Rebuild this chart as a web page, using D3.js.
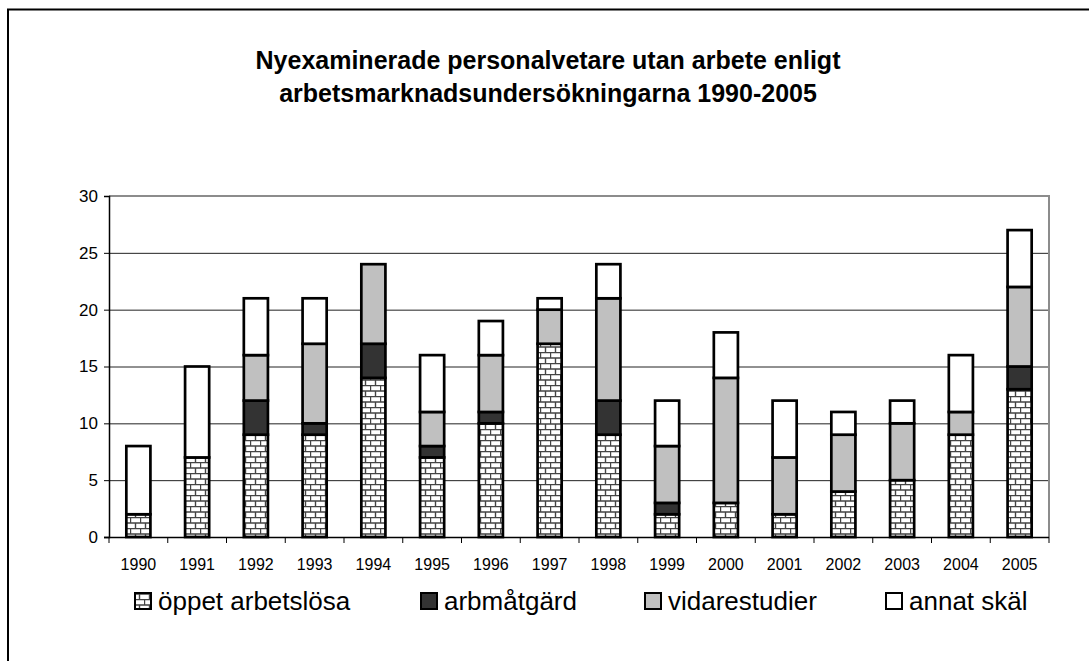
<!DOCTYPE html>
<html>
<head>
<meta charset="utf-8">
<script src="https://cdn.jsdelivr.net/npm/d3@7"></script>
<style>
  body { margin: 0; background: #fff; }
  svg { display: block; font-family: "Liberation Sans", Arial, sans-serif; }
</style>
</head>
<body>
<script>
var years = ["1990","1991","1992","1993","1994","1995","1996","1997","1998","1999","2000","2001","2002","2003","2004","2005"];
var oppet      = [2, 7, 9, 9, 14, 7, 10, 17, 9, 2, 3, 2, 4, 5, 9, 13];
var arbmatgard = [0, 0, 3, 1, 3, 1, 1, 0, 3, 1, 0, 0, 0, 0, 0, 2];
var vidare     = [0, 0, 4, 7, 7, 3, 5, 3, 9, 5, 11, 5, 5, 5, 2, 7];
var annat      = [6, 8, 5, 4, 0, 5, 3, 1, 3, 4, 4, 5, 2, 2, 5, 5];
var seriesNames = ["öppet arbetslösa", "arbmåtgärd", "vidarestudier", "annat skäl"];
var yTicks = [0, 5, 10, 15, 20, 25, 30];
var titleLines = ["Nyexaminerade personalvetare utan arbete enligt", "arbetsmarknadsundersökningarna 1990-2005"];

var canvasWidth = 1089;
var canvasHeight = 661;
var plot = { left: 109, right: 1049, top: 196, bottom: 537 };

var svg = d3.select("body").append("svg")
    .attr("width", canvasWidth)
    .attr("height", canvasHeight)

// brick pattern
var defs = svg.append("defs")
var pat = defs.append("pattern")
    .attr("id", "brick")
    .attr("patternUnits", "userSpaceOnUse")
    .attr("width", 10)
    .attr("height", 11)
pat.append("rect").attr("width", 10).attr("height", 11).attr("fill", "#fff")
pat.append("path")
    .attr("d", "M0,0.5H10M0,6H10M0.5,0V6M5.5,6V11")
    .attr("stroke", "#444")
    .attr("stroke-width", 1.4)
    .attr("fill", "none")

var fills = ["url(#brick)", "#333333", "#c0c0c0", "#ffffff"];

// outer frame (left and top only visible)
svg.append("path")
    .attr("d", "M8,661V9.5H1089")
    .attr("fill", "none")
    .attr("stroke", "#000")
    .attr("stroke-width", 2)

// title
svg.append("text")
    .attr("x", 548)
    .attr("y", 69)
    .attr("text-anchor", "middle")
    .attr("font-size", "25px")
    .attr("font-weight", "bold")
    .selectAll("tspan")
    .data(titleLines)
    .enter().append("tspan")
    .attr("x", 548)
    .attr("dy", (d, i) => i == 0 ? 0 : 33)
    .text(d => d)

var xScale = d3.scaleBand()
    .domain(years)
    .range([plot.left, plot.right])
    .paddingInner(0.59)
    .paddingOuter(0.295)
var yScale = d3.scaleLinear().domain([0, 30]).range([plot.bottom, plot.top])

// gridlines
svg.append("g")
    .selectAll("line")
    .data(yTicks.filter(d => d > 0 && d < 30))
    .enter().append("line")
    .attr("x1", plot.left).attr("x2", plot.right)
    .attr("y1", d => yScale(d) + 0.5).attr("y2", d => yScale(d) + 0.5)
    .attr("stroke", "#222")
    .attr("stroke-width", 1)

// plot area border top/right in gray
svg.append("path")
    .attr("d", "M" + plot.left + "," + yScale(30) + "H" + plot.right + "V" + plot.bottom)
    .attr("fill", "none")
    .attr("stroke", "#8c8c8c")
    .attr("stroke-width", 2)

// bars
var table = years.map((y, i) => ({ year: y, s0: oppet[i], s1: arbmatgard[i], s2: vidare[i], s3: annat[i] }))
var stack = d3.stack().keys(["s0", "s1", "s2", "s3"])(table)

var layers = svg.append("g").selectAll("g")
    .data(stack)
    .enter().append("g")
    .attr("fill", (d, i) => fills[i])

layers.selectAll("rect")
    .data(d => d.filter(v => v[1] - v[0] > 0))
    .enter().append("rect")
    .attr("x", d => xScale(d.data.year))
    .attr("width", xScale.bandwidth())
    .attr("y", d => yScale(d[1]))
    .attr("height", d => yScale(d[0]) - yScale(d[1]))
    .attr("stroke", "#000")
    .attr("stroke-width", 2.7)

// y axis
var yAxis = svg.append("g")
    .attr("transform", "translate(" + plot.left + ",0)")
    .call(d3.axisLeft(yScale).tickValues(yTicks).tickSize(5).tickPadding(6))
yAxis.select(".domain").attr("stroke-width", 1.5)
yAxis.selectAll("text").attr("font-size", "17px").attr("font-family", "Liberation Sans, Arial, sans-serif").attr("fill", "#000")

// x axis: line, ticks between categories, labels under bars
svg.append("line")
    .attr("x1", plot.left - 5).attr("x2", plot.right)
    .attr("y1", plot.bottom + 0.5).attr("y2", plot.bottom + 0.5)
    .attr("stroke", "#000").attr("stroke-width", 1.5)

var step = xScale.step()
svg.append("g").selectAll("line")
    .data(d3.range(years.length + 1))
    .enter().append("line")
    .attr("x1", i => plot.left + i * step).attr("x2", i => plot.left + i * step)
    .attr("y1", plot.bottom).attr("y2", plot.bottom + 6)
    .attr("stroke", "#000").attr("stroke-width", 1)

svg.append("g").selectAll("text")
    .data(years)
    .enter().append("text")
    .attr("x", d => xScale(d) + xScale.bandwidth() / 2)
    .attr("y", plot.bottom + 33)
    .attr("text-anchor", "middle")
    .attr("font-size", "16px")
    .text(d => d)

// legend
var legendX = [134, 420, 644, 885];
var legend = svg.append("g").selectAll("g")
    .data(seriesNames)
    .enter().append("g")
    .attr("transform", (d, i) => "translate(" + legendX[i] + ",610)")

legend.append("rect")
    .attr("x", 1).attr("y", -17)
    .attr("width", 16).attr("height", 16)
    .attr("fill", (d, i) => fills[i])
    .attr("stroke", "#000")
    .attr("stroke-width", 2)

legend.append("text")
    .attr("x", 24)
    .attr("y", 0)
    .attr("font-size", "26px")
    .text(d => d)
</script>
</body>
</html>
